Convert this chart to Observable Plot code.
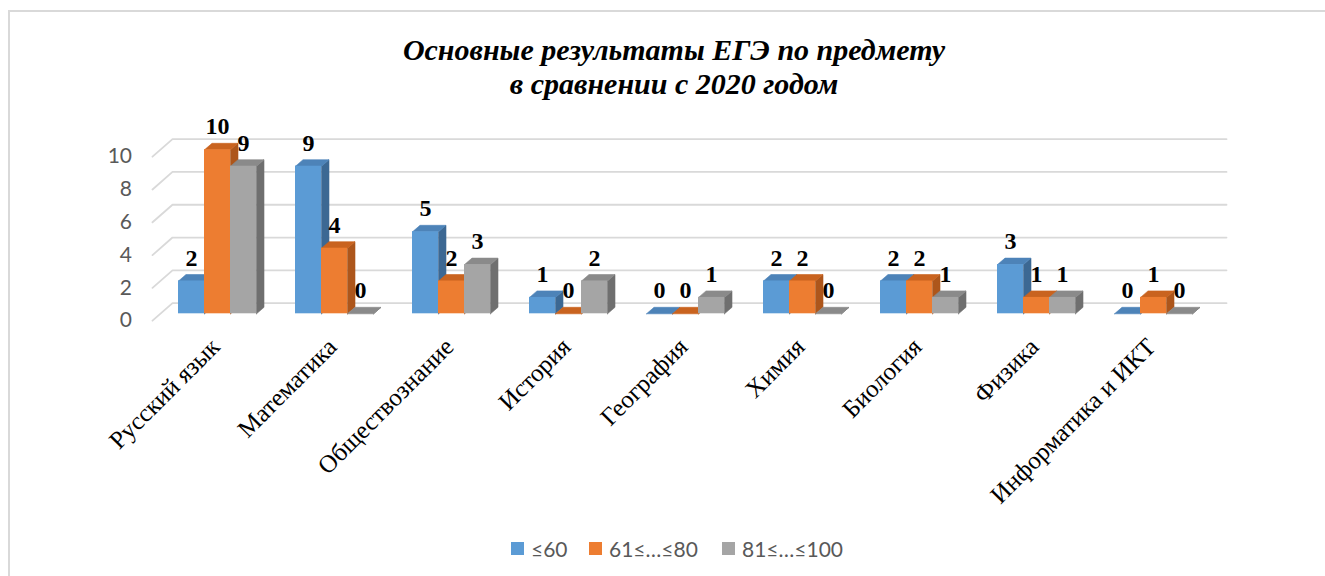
<!DOCTYPE html>
<html>
<head>
<meta charset="utf-8">
<script src="https://cdn.jsdelivr.net/npm/d3@7"></script>
<script src="https://cdn.jsdelivr.net/npm/@observablehq/plot@0.6"></script>
<style>
  html, body { margin: 0; padding: 0; background: #fff; overflow: hidden; }
  #wrap { position: relative; width: 1325px; height: 576px; overflow: hidden; }
  #frame { position: absolute; left: 8px; top: 10px; width: 1400px; height: 700px; border: 2px solid #d9d9d9; box-sizing: border-box; }
  #title { position: absolute; left: 0; top: 33px; width: 1348px; text-align: center;
           font-family: "Liberation Serif", "Times New Roman", serif; font-weight: bold; font-style: italic;
           font-size: 30px; line-height: 34px; color: #000; }
  #chart { position: absolute; left: 0; top: 0; }
  .leg { position: absolute; top: 535px; display: flex; align-items: center; height: 26px;
         font-family: Lato, "Open Sans", sans-serif; font-size: 21px; color: #595959; }
  .leg i { display: inline-block; width: 13px; height: 13px; margin-right: 7px; }
</style>
</head>
<body>
<div id="wrap">
  <div id="frame"></div>
  <div id="title">Основные результаты ЕГЭ по предмету<br>в сравнении с 2020 годом</div>
  <div id="chart"></div>
  <div id="legend"></div>
</div>
<script>
// ---- data ----
const categories = ["Русский язык", "Математика", "Обществознание", "История", "География", "Химия", "Биология", "Физика", "Информатика и ИКТ"];
const seriesNames = ["≤60", "61≤…≤80", "81≤…≤100"];
const seriesLow = [2, 9, 5, 1, 0, 2, 2, 3, 0];
const seriesMid = [10, 4, 2, 0, 0, 2, 2, 1, 1];
const seriesHigh = [9, 0, 3, 2, 1, 0, 1, 1, 0];
const yTicks = [0, 2, 4, 6, 8, 10];

// ---- styles ----
const frontColors = ["#5b9bd5", "#ed7d31", "#a5a5a5"];
const topColors = ["#4d83b8", "#c9631f", "#8a8a8a"];
const sideColors = ["#3c6893", "#ad561b", "#6f6f6f"];

// geometry in data units
const groupHalf = 78 / 117 / 2;
const barW = 26 / 117;
const depthX = 7.5 / 117;
const depthY = 6.5 / 16.4;
const wallBack = 0.65, wallFront = -0.42;
const gridLeftFront = (152 - 217) / 117, gridLeftBack = (172 - 217) / 117, gridRight = (1226 - 217) / 117;
const yLabelX = (131.5 - 217) / 117;

const allSeries = [seriesLow, seriesMid, seriesHigh];
const bars = [];
categories.forEach((c, i) => {
  allSeries.forEach((vals, j) => {
    const x1 = i - groupHalf + j * barW;
    bars.push({cat: c, i, j, series: seriesNames[j], v: vals[i], x1, x2: x1 + barW});
  });
});

// polygons
const tops = [], sides = [];
bars.forEach((b, k) => {
  const v = b.v;
  [[b.x1, v], [b.x2, v], [b.x2 + depthX, v + depthY], [b.x1 + depthX, v + depthY], [b.x1, v]]
    .forEach(([x, y]) => tops.push({id: k, j: b.j, x, y}));
  [[b.x2, 0], [b.x2 + depthX, depthY], [b.x2 + depthX, v + depthY], [b.x2, v], [b.x2, 0]]
    .forEach(([x, y]) => sides.push({id: k, j: b.j, x, y}));
});

const grid = [];
yTicks.forEach(t => {
  grid.push({t, x: gridLeftFront, y: t + wallFront});
  grid.push({t, x: gridLeftBack, y: t + wallBack});
  grid.push({t, x: gridRight, y: t + wallBack});
});

const serif = "Liberation Serif, Times New Roman, serif";
const faceMarks = [];
[0, 1, 2].forEach(j => {
  faceMarks.push(Plot.line(sides.filter(d => d.j === j), {x: "x", y: "y", z: "id", fill: sideColors[j], stroke: sideColors[j], strokeWidth: 0.6}));
});
[0, 1, 2].forEach(j => {
  faceMarks.push(Plot.line(tops.filter(d => d.j === j), {x: "x", y: "y", z: "id", fill: topColors[j], stroke: topColors[j], strokeWidth: 0.6}));
});

const chart = Plot.plot({
  width: 1325,
  height: 576,
  marginLeft: 158.5,
  marginRight: 113.5,
  marginTop: 149.3,
  marginBottom: 262.7,
  style: {background: "transparent", overflow: "visible"},
  x: {type: "linear", domain: [-0.5, 8.5], axis: null},
  y: {type: "linear", domain: [0, 10], axis: null},
  color: {domain: seriesNames, range: frontColors},
  marks: [
    Plot.line(grid, {x: "x", y: "y", z: "t", stroke: "#d9d9d9", strokeWidth: 1.8}),
    ...faceMarks,
    Plot.rect(bars, {x1: "x1", x2: "x2", y1: 0, y2: "v", fill: "series"}),
    Plot.text(bars, {x: d => (d.x1 + d.x2) / 2, y: "v", text: d => String(d.v), dy: -23, lineAnchor: "middle",
      fontFamily: serif, fontWeight: "bold", fontSize: 24, fill: "#000"}),
    Plot.text(yTicks, {x: () => yLabelX, y: d => d + wallFront, text: d => String(d), textAnchor: "end", lineAnchor: "middle",
      fontFamily: "Lato, Open Sans, sans-serif", fontSize: 21, fill: "#595959"}),
    Plot.text(categories, {x: (d, i) => i, y: () => 0, text: d => d, dy: 29, dx: -2, rotate: -45, textAnchor: "end", lineAnchor: "middle",
      fontFamily: serif, fontSize: 25, fill: "#000"})
  ]
});
document.getElementById("chart").appendChild(chart);

// legend
const legendX = [511, 589, 722];
const legend = document.getElementById("legend");
seriesNames.forEach((s, j) => {
  const el = document.createElement("div");
  el.className = "leg";
  el.style.left = legendX[j] + "px";
  el.innerHTML = `<i style="background:${frontColors[j]}"></i><span>${s}</span>`;
  legend.appendChild(el);
});
</script>
</body>
</html>
